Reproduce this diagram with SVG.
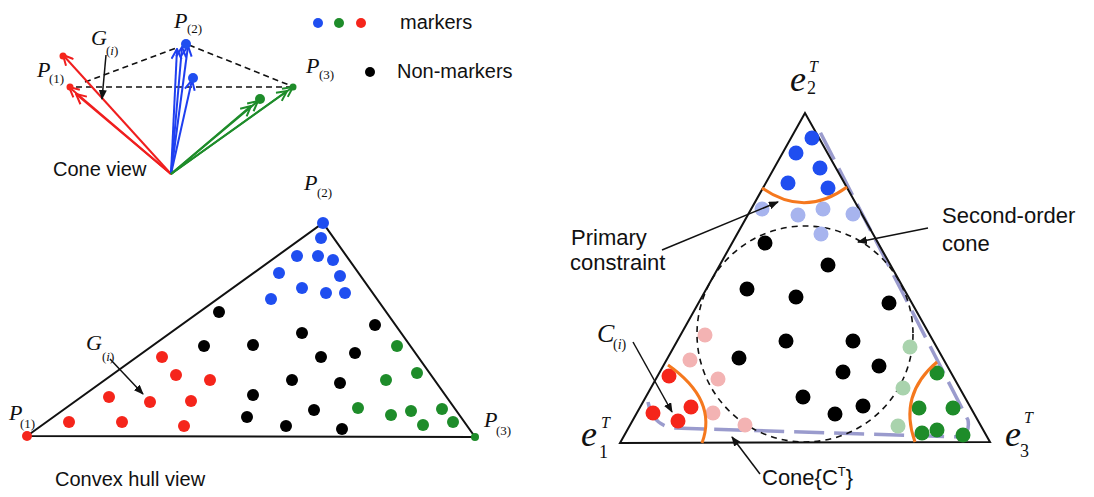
<svg xmlns="http://www.w3.org/2000/svg" width="1094" height="497" viewBox="0 0 1094 497">
<style>
.lbl{font-family:"Liberation Sans",Arial,sans-serif;font-size:20px;fill:#111}
.lbl2{font-family:"Liberation Sans",Arial,sans-serif;font-size:22px;fill:#111}
.m{font-family:"Liberation Serif","Times New Roman",serif;font-style:italic;fill:#111}
.sub{font-family:"Liberation Serif","Times New Roman",serif;fill:#111}
.edge{fill:none;stroke:#111;stroke-width:2}
.dash{fill:none;stroke:#111;stroke-width:1.6;stroke-dasharray:6 4}
.ann{fill:none;stroke:#111;stroke-width:1.5;marker-end:url(#ah)}
.vr{stroke:#f01e1e;stroke-width:2;fill:none;marker-end:url(#mr)}
.vb{stroke:#1f3ff0;stroke-width:2;fill:none;marker-end:url(#mb)}
.vg{stroke:#1e8c2a;stroke-width:2;fill:none;marker-end:url(#mg)}
.r{fill:#f5251b}.b{fill:#1f4ef0}.g{fill:#1e8c2a}.k{fill:#000}
.lr{fill:#f3b3b3}.lb{fill:#a7b4ee}.lg{fill:#a9d3ad}
.orange{fill:none;stroke:#f5781e;stroke-width:3}
</style>
<defs>
<marker id="ah" viewBox="0 0 10 8" refX="9" refY="4" markerWidth="10" markerHeight="8" markerUnits="userSpaceOnUse" orient="auto"><path d="M0,0 L10,4 L0,8 z" fill="#111"/></marker>
<marker id="mr" viewBox="0 0 12 12" refX="11" refY="6" markerWidth="12" markerHeight="12" markerUnits="userSpaceOnUse" orient="auto"><path d="M1,1 L11,6 L1,11" fill="none" stroke="#f01e1e" stroke-width="2"/></marker>
<marker id="mb" viewBox="0 0 12 12" refX="11" refY="6" markerWidth="12" markerHeight="12" markerUnits="userSpaceOnUse" orient="auto"><path d="M1,1 L11,6 L1,11" fill="none" stroke="#1f3ff0" stroke-width="2"/></marker>
<marker id="mg" viewBox="0 0 12 12" refX="11" refY="6" markerWidth="12" markerHeight="12" markerUnits="userSpaceOnUse" orient="auto"><path d="M1,1 L11,6 L1,11" fill="none" stroke="#1e8c2a" stroke-width="2"/></marker>
</defs>
<rect width="1094" height="497" fill="#fff"/>

<!-- Cone view -->
<g id="cone-view">
  <g id="cone-dashes">
    <path class="dash" d="M85,82 L176,48"/>
    <path class="dash" d="M76,87 L293,87"/>
    <path class="dash" d="M189,45 L289,85"/>
  </g>
  <g id="cone-vectors">
    <path class="vr" d="M171,174 L63,55"/>
    <path class="vr" d="M171,174 L69,87"/>
    <path class="vr" d="M171,174 L76,94"/>
    <path class="vb" d="M171,174 L177,49"/>
    <path class="vb" d="M171,174 L182,47"/>
    <path class="vb" d="M171,174 L188,46"/>
    <path class="vb" d="M171,174 L192,80"/>
    <path class="vg" d="M171,174 L293,87"/>
    <path class="vg" d="M171,174 L287,91"/>
    <path class="vg" d="M171,174 L258,101"/>
    <path class="vg" d="M171,174 L251,106"/>
  </g>
  <circle class="r" cx="63" cy="56" r="3.5"/>
  <circle class="r" cx="70" cy="87" r="3.5"/>
  <circle class="b" cx="186" cy="44" r="5"/>
  <circle class="b" cx="193" cy="78" r="5"/>
  <circle class="g" cx="260" cy="99" r="5"/>
  <circle class="g" cx="293" cy="87" r="3.5"/>
  <path class="ann" d="M106,55 L102,99"/>
  <text class="m" x="37" y="77" font-size="22">P</text><text class="sub" x="49" y="83" font-size="13">(1)</text>
  <text class="m" x="91" y="45" font-size="22">G</text><text class="sub" x="106" y="55" font-size="13">(<tspan font-style="italic">i</tspan>)</text>
  <text class="m" x="174" y="28" font-size="22">P</text><text class="sub" x="187" y="33" font-size="13">(2)</text>
  <text class="m" x="306" y="73" font-size="22">P</text><text class="sub" x="319" y="79" font-size="13">(3)</text>
  <text class="lbl" x="53" y="176">Cone view</text>
</g>

<!-- Legend -->
<g id="legend">
  <circle class="b" cx="318" cy="23" r="5"/>
  <circle class="g" cx="339" cy="23" r="5"/>
  <circle class="r" cx="361" cy="23" r="5"/>
  <text class="lbl" x="400" y="29">markers</text>
  <circle class="k" cx="370" cy="72" r="5"/>
  <text class="lbl" x="397" y="78">Non-markers</text>
</g>

<!-- Convex hull view -->
<g id="convex-hull">
  <polygon class="edge" points="27,436 323,223 475,437"/>
  <g id="hull-blue">
    <circle class="b" cx="323" cy="223" r="6"/>
    <circle class="b" cx="321" cy="238" r="6"/>
    <circle class="b" cx="297" cy="256" r="6"/>
    <circle class="b" cx="318" cy="256" r="6"/>
    <circle class="b" cx="333" cy="260" r="6"/>
    <circle class="b" cx="279" cy="273" r="6"/>
    <circle class="b" cx="340" cy="276" r="6"/>
    <circle class="b" cx="302" cy="288" r="6"/>
    <circle class="b" cx="326" cy="293" r="6"/>
    <circle class="b" cx="345" cy="293" r="6"/>
    <circle class="b" cx="271" cy="299" r="6"/>
  </g>
  <g id="hull-black">
    <circle class="k" cx="219" cy="312" r="6"/>
    <circle class="k" cx="302" cy="333" r="6"/>
    <circle class="k" cx="375" cy="325" r="6"/>
    <circle class="k" cx="204" cy="346" r="6"/>
    <circle class="k" cx="253" cy="345" r="6"/>
    <circle class="k" cx="321" cy="357" r="6"/>
    <circle class="k" cx="355" cy="353" r="6"/>
    <circle class="k" cx="292" cy="380" r="6"/>
    <circle class="k" cx="340" cy="383" r="6"/>
    <circle class="k" cx="253" cy="395" r="6"/>
    <circle class="k" cx="314" cy="410" r="6"/>
    <circle class="k" cx="247" cy="417" r="6"/>
    <circle class="k" cx="286" cy="426" r="6"/>
    <circle class="k" cx="342" cy="429" r="6"/>
  </g>
  <g id="hull-green">
    <circle class="g" cx="397" cy="346" r="6"/>
    <circle class="g" cx="417" cy="373" r="6"/>
    <circle class="g" cx="386" cy="380" r="6"/>
    <circle class="g" cx="358" cy="408" r="6"/>
    <circle class="g" cx="391" cy="415" r="6"/>
    <circle class="g" cx="411" cy="411" r="6"/>
    <circle class="g" cx="442" cy="409" r="6"/>
    <circle class="g" cx="423" cy="425" r="6"/>
    <circle class="g" cx="453" cy="422" r="6"/>
    <circle class="g" cx="475" cy="437" r="4"/>
  </g>
  <g id="hull-red">
    <circle class="r" cx="162" cy="357" r="6"/>
    <circle class="r" cx="176" cy="375" r="6"/>
    <circle class="r" cx="210" cy="380" r="6"/>
    <circle class="r" cx="109" cy="397" r="6"/>
    <circle class="r" cx="150" cy="402" r="6"/>
    <circle class="r" cx="191" cy="401" r="6"/>
    <circle class="r" cx="69" cy="422" r="6"/>
    <circle class="r" cx="122" cy="422" r="6"/>
    <circle class="r" cx="184" cy="426" r="6"/>
    <circle class="r" cx="27" cy="436" r="5"/>
  </g>
  <path class="ann" d="M110,359 L143,394"/>
  <text class="m" x="86" y="350" font-size="22">G</text><text class="sub" x="102" y="361" font-size="13">(<tspan font-style="italic">i</tspan>)</text>
  <text class="m" x="304" y="190" font-size="22">P</text><text class="sub" x="317" y="197" font-size="13">(2)</text>
  <text class="m" x="9" y="420" font-size="22">P</text><text class="sub" x="20" y="428" font-size="13">(1)</text>
  <text class="m" x="484" y="427" font-size="22">P</text><text class="sub" x="496" y="435" font-size="13">(3)</text>
  <text class="lbl" x="55" y="486">Convex hull view</text>
</g>

<!-- Simplex view -->
<g id="simplex">
  <path id="cone-ct" d="M648,402 Q652,424 672,428 L962,437 Q970,432 968,420 L818,128" fill="none" stroke="#8f90c8" stroke-width="3.5" stroke-dasharray="30 10" opacity="0.9"/>
  <polygon class="edge" points="805,113 620,443 990,442" stroke-width="2.2"/>
  <circle id="soc" cx="805" cy="334" r="108" fill="none" stroke="#111" stroke-width="1.6" stroke-dasharray="6 5"/>
  <g id="simplex-blue">
    <circle class="b" cx="812" cy="138" r="7.5"/>
    <circle class="b" cx="796" cy="153" r="7.5"/>
    <circle class="b" cx="820" cy="168" r="7.5"/>
    <circle class="b" cx="788" cy="183" r="7.5"/>
    <circle class="b" cx="828" cy="188" r="7.5"/>
    <circle class="lb" cx="762" cy="209" r="7.5"/>
    <circle class="lb" cx="798" cy="215" r="7.5"/>
    <circle class="lb" cx="823" cy="209" r="7.5"/>
    <circle class="lb" cx="853" cy="214" r="7.5"/>
    <circle class="lb" cx="821" cy="234" r="7.5"/>
  </g>
  <g id="simplex-black">
    <circle class="k" cx="765" cy="243" r="7.5"/>
    <circle class="k" cx="828" cy="265" r="7.5"/>
    <circle class="k" cx="747" cy="289" r="7.5"/>
    <circle class="k" cx="796" cy="297" r="7.5"/>
    <circle class="k" cx="889" cy="303" r="7.5"/>
    <circle class="k" cx="786" cy="341" r="7.5"/>
    <circle class="k" cx="853" cy="341" r="7.5"/>
    <circle class="k" cx="739" cy="358" r="7.5"/>
    <circle class="k" cx="843" cy="372" r="7.5"/>
    <circle class="k" cx="879" cy="366" r="7.5"/>
    <circle class="k" cx="803" cy="397" r="7.5"/>
    <circle class="k" cx="863" cy="406" r="7.5"/>
    <circle class="k" cx="835" cy="414" r="7.5"/>
  </g>
  <g id="simplex-red">
    <circle class="lr" cx="705" cy="335" r="7.5"/>
    <circle class="lr" cx="690" cy="360" r="7.5"/>
    <circle class="lr" cx="718" cy="379" r="7.5"/>
    <circle class="lr" cx="713" cy="413" r="7.5"/>
    <circle class="lr" cx="745" cy="425" r="7.5"/>
    <circle class="r" cx="669" cy="376" r="7.5"/>
    <circle class="r" cx="653" cy="413" r="7.5"/>
    <circle class="r" cx="691" cy="407" r="7.5"/>
    <circle class="r" cx="678" cy="421" r="7.5"/>
  </g>
  <g id="simplex-green">
    <circle class="lg" cx="910" cy="347" r="7.5"/>
    <circle class="lg" cx="903" cy="388" r="7.5"/>
    <circle class="lg" cx="898" cy="426" r="7.5"/>
    <circle class="g" cx="937" cy="373" r="7.5"/>
    <circle class="g" cx="919" cy="408" r="7.5"/>
    <circle class="g" cx="953" cy="408" r="7.5"/>
    <circle class="g" cx="922" cy="433" r="7.5"/>
    <circle class="g" cx="937" cy="430" r="7.5"/>
    <circle class="g" cx="963" cy="435" r="7.5"/>
  </g>
  <g id="primary-constraints">
    <path class="orange" d="M762,188 Q805,218 847,187"/>
    <path class="orange" d="M668,365 Q718,400 702,443"/>
    <path class="orange" d="M937,362 Q898,395 915,442"/>
  </g>
  <g id="simplex-annotations">
    <path class="ann" d="M662,250 L778,202"/>
    <path class="ann" d="M928,228 L858,242"/>
    <path class="ann" d="M633,342 L672,412"/>
    <path class="ann" d="M760,474 L732,437"/>
  </g>
  <text class="lbl2" x="571" y="245">Primary</text>
  <text class="lbl2" x="570" y="270">constraint</text>
  <text class="lbl2" x="942" y="223">Second-order</text>
  <text class="lbl2" x="942" y="251">cone</text>
  <text class="lbl2" x="762" y="485">Cone{C<tspan font-size="13" dy="-9">T</tspan><tspan dy="9">}</tspan></text>
  <text class="m" x="597" y="342" font-size="26">C</text><text class="sub" x="613" y="349" font-size="14">(<tspan font-style="italic">i</tspan>)</text>
  <text class="m" x="790" y="91" font-size="36">e</text><text class="sub" x="807" y="94" font-size="18">2</text><text class="m" x="809" y="72" font-size="16">T</text>
  <text class="m" x="581" y="446" font-size="36">e</text><text class="sub" x="599" y="458" font-size="18">1</text><text class="m" x="601" y="428" font-size="16">T</text>
  <text class="m" x="1005" y="446" font-size="36">e</text><text class="sub" x="1020" y="457" font-size="18">3</text><text class="m" x="1024" y="423" font-size="16">T</text>
</g>
</svg>
